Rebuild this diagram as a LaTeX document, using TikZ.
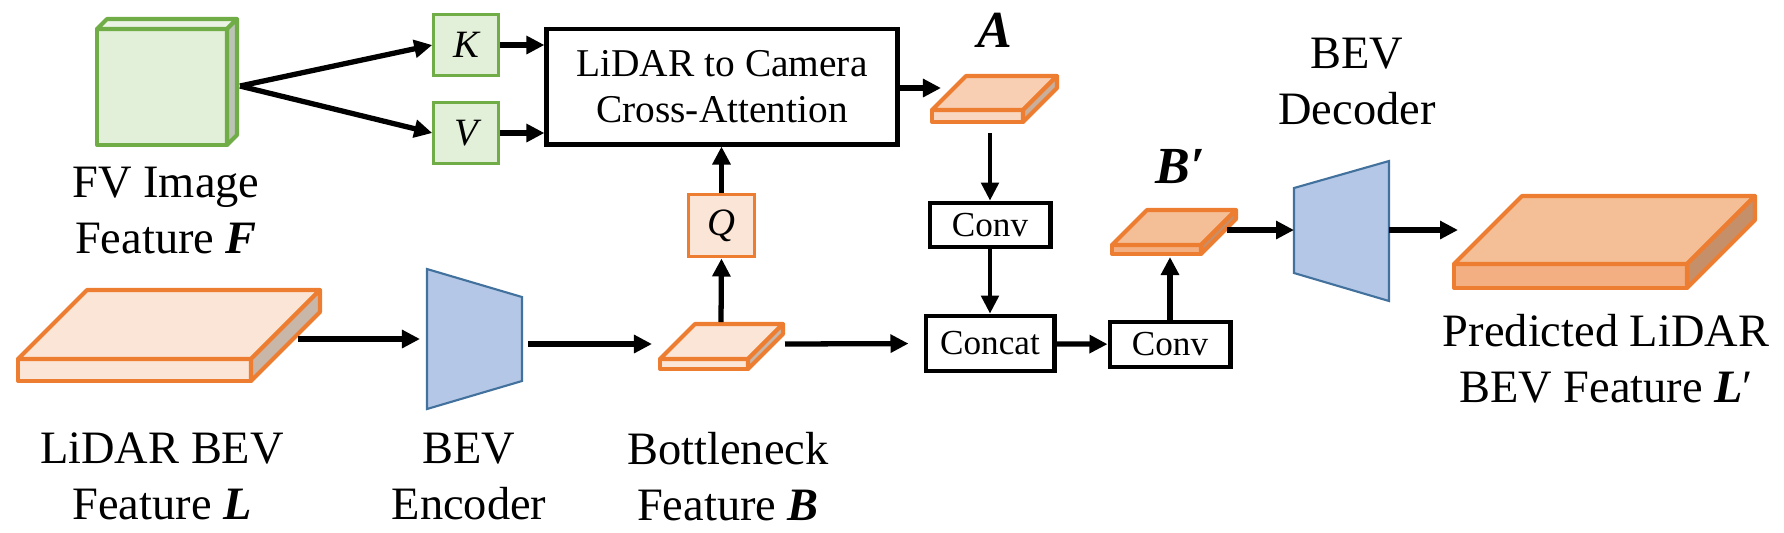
\documentclass[tikz,border=0pt]{standalone}
\usepackage{fontspec}
\setmainfont{Liberation Serif}
\usetikzlibrary{arrows.meta}
\definecolor{orline}{HTML}{ED7D31}
\definecolor{ltop}{HTML}{FBE5D6}
\definecolor{lside}{HTML}{C8B7A8}
\definecolor{mtop}{HTML}{F8CFB3}
\definecolor{mfront}{HTML}{F9D6BF}
\definecolor{mside}{HTML}{C9AE9B}
\definecolor{dtop}{HTML}{F4BF96}
\definecolor{dfront}{HTML}{F3AF82}
\definecolor{dside}{HTML}{C48F69}
\definecolor{kvfill}{HTML}{E2F0D9}
\definecolor{kvline}{HTML}{70AD47}
\definecolor{cubetop}{HTML}{EAF3E4}
\definecolor{cubeside}{HTML}{BCC4B6}
\definecolor{codecfill}{HTML}{B4C7E7}
\definecolor{codecline}{HTML}{41719C}

% front face at (#1,#2), width #3, height #4, depth #5; fills top/front/side; line colour
\newcommand{\featslab}[9]{%
\filldraw[draw=#9,line width=1.15pt,line join=round,fill=#7] (#1,#2) rectangle ({#1+#3},{#2+#4});
\filldraw[draw=#9,line width=1.15pt,line join=round,fill=#6] (#1,#2) -- ({#1+#5},{#2-#5}) -- ({#1+#3+#5},{#2-#5}) -- ({#1+#3},#2) -- cycle;
\filldraw[draw=#9,line width=1.15pt,line join=round,fill=#8] ({#1+#3},#2) -- ({#1+#3+#5},{#2-#5}) -- ({#1+#3+#5},{#2+#4-#5}) -- ({#1+#3},{#2+#4}) -- cycle;
}

\begin{document}
\begin{tikzpicture}[x=0.01cm,y=-0.01cm,
  >={Triangle[length=1.8mm,width=1.75mm]},
  flow/.style={->,line width=1.5pt},
  thinflow/.style={->,line width=1.1pt},
  block/.style={draw,line width=1.4pt,fill=white,inner sep=0},
  kv/.style={draw=kvline,fill=kvfill,line width=0.7pt,inner sep=0,minimum width=0.65cm,minimum height=0.61cm,font=\fontsize{11}{13}\selectfont\itshape},
  codec/.style={fill=codecfill,draw=codecline,line width=0.6pt},
  lbl/.style={anchor=north,inner sep=0,align=center,font=\fontsize{13.2}{15.9}\selectfont},
  sym/.style={anchor=base,inner sep=0,font=\fontsize{14.8}{16}\selectfont\bfseries\itshape}]
\useasboundingbox (0,0) rectangle (1784,532);

\featslab{97}{29}{130}{116}{10}{cubetop}{kvfill}{cubeside}{kvline}
\featslab{18}{359}{233}{22}{69}{ltop}{ltop}{lside}{orline}
\featslab{660}{359}{88}{10}{35}{ltop}{ltop}{lside}{orline}
\featslab{932}{110}{91}{12}{34}{mtop}{mfront}{mside}{orline}
\featslab{1112}{245}{89}{9}{35}{dtop}{dfront}{dside}{orline}
\featslab{1454}{264}{233}{24}{68}{dtop}{dfront}{dside}{orline}

\filldraw[codec] (427,269) -- (522,297) -- (522,381) -- (427,409) -- cycle;
\filldraw[codec] (1294,188) -- (1389,161) -- (1389,301) -- (1294,273) -- cycle;

\node[kv] (k) at (466,45) {K};
\node[kv] (v) at (466,133) {V};
\node[block,minimum width=3.50cm,minimum height=1.15cm,align=center,font=\fontsize{11.2}{13}\selectfont] (att) at (722,86.5) {LiDAR to Camera\\Cross-Attention};
\node[draw=orline,fill=ltop,line width=1.1pt,inner sep=0,minimum width=0.66cm,minimum height=0.62cm,font=\fontsize{11}{13}\selectfont\itshape] (q) at (721.5,225.5) {Q};
\node[block,minimum width=1.20cm,minimum height=0.44cm,font=\fontsize{10}{12}\selectfont] (conv1) at (990,225) {Conv};
\node[block,minimum width=1.28cm,minimum height=0.55cm,font=\fontsize{10}{12}\selectfont] (concat) at (990,343.5) {Concat};
\node[block,minimum width=1.20cm,minimum height=0.45cm,font=\fontsize{10}{12}\selectfont] (conv2) at (1170,344.5) {Conv};

\coordinate (fv) at (240,86);
\coordinate (ain) at (941,88);
\coordinate (aout) at (990,133);
\coordinate (bout) at (721,322);
\coordinate (bright) at (785,344);
\coordinate (bpin) at (1170,257);
\coordinate (bpout) at (1227,230);
\coordinate (decin) at (1294,230);
\coordinate (decout) at (1389,230);
\coordinate (lpin) at (1458,230);
\coordinate (lout) at (298,339);
\coordinate (encin) at (420,339);
\coordinate (encout) at (528,344);
\coordinate (bin) at (652,344);

\draw[flow] (fv) -- (k.west);
\draw[flow] (fv) -- (v.west);
\draw[flow] (k.east) -- (k.east -| att.west);
\draw[flow] (v.east) -- (v.east -| att.west);
\draw[flow] (att.east |- ain) -- (ain);
\draw[thinflow] (aout) -- (conv1.north);
\draw[thinflow] (conv1) -- (concat);
\draw[flow] (bout) -- (q.south);
\draw[flow] (q.north) -- (q.north |- att.south);
\draw[flow,shorten >=0.15cm] (bright) -- (concat.west);
\draw[flow] (concat) -- (conv2);
\draw[flow] (conv2) -- (bpin);
\draw[flow] (bpout) -- (decin);
\draw[flow] (decout) -- (lpin);
\draw[flow] (lout) -- (encin);
\draw[flow] (encout) -- (bin);

\node[lbl] (fvlab) at (166,166) {FV Image\\Feature \textbf{\textit{F}}};
\node[lbl] (lidarlab) at (162,432) {LiDAR BEV\\Feature \textbf{\textit{L}}};
\node[lbl] (enclab) at (469,432) {BEV\\Encoder};
\node[lbl] (botlab) at (728,432) {Bottleneck\\Feature \textbf{\textit{B}}};
\node[lbl] (declab) at (1357,37) {BEV\\Decoder};
\node[lbl] (predlab) at (1606,314) {Predicted LiDAR\\BEV Feature \textbf{\textit{L}}′};
\node[sym] (alab) at (995,47) {A};
\node[sym] (bplab) at (1180,183) {B′};
\end{tikzpicture}
\end{document}
